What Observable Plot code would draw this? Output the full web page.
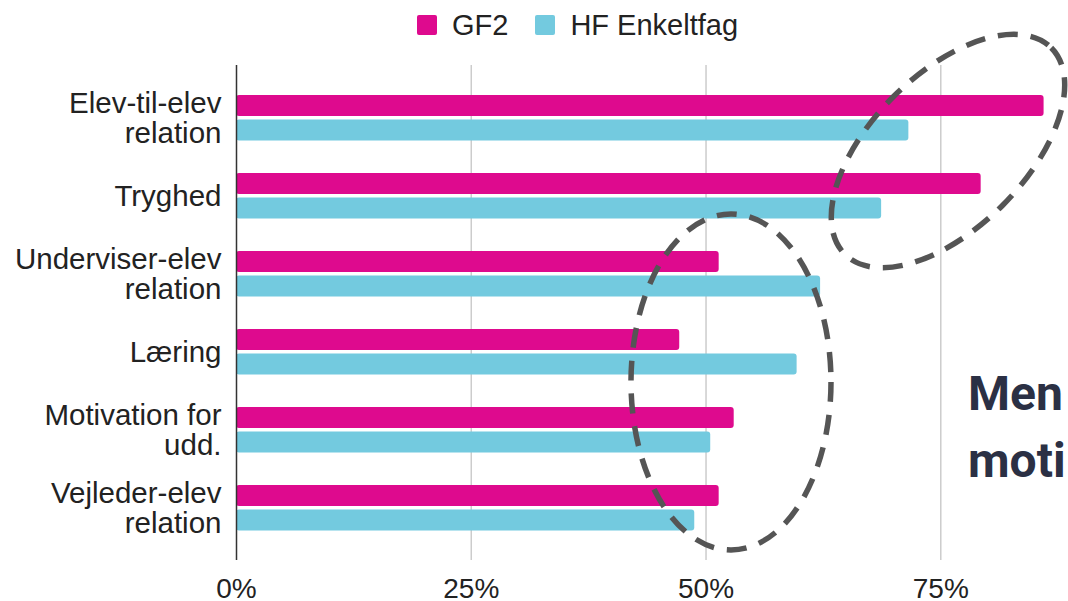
<!DOCTYPE html>
<html>
<head>
<meta charset="utf-8">
<script src="https://cdn.jsdelivr.net/npm/d3@7"></script>
<script src="https://cdn.jsdelivr.net/npm/@observablehq/plot@0.6"></script>
<style>
  body { margin: 0; background: #fff; font-family: "Liberation Sans", Arial, sans-serif; }
  #wrap { position: relative; width: 1068px; height: 601px; overflow: hidden; }
  #legend { position: absolute; left: 417px; top: 0; height: 50px; display: flex; align-items: center; font-size: 29px; color: #222; }
  .item { display: flex; align-items: center; margin-right: 27px; }
  .sw { width: 20px; height: 20px; border-radius: 2px; margin-right: 15px; }
  #chart { position: absolute; left: 0; top: 50px; }
  #overlay { position: absolute; left: 0; top: 0; pointer-events: none; }
</style>
</head>
<body>
<div id="wrap">
  <div id="legend"></div>
  <div id="chart"></div>
  <svg id="overlay" width="1068" height="601">
    <ellipse cx="948" cy="151" rx="146" ry="77" transform="rotate(-45 948 151)" fill="none" stroke="#555" stroke-width="5.5" stroke-dasharray="20 13"/>
    <ellipse cx="731" cy="382" rx="100" ry="168" fill="none" stroke="#555" stroke-width="5.5" stroke-dasharray="20 13"/>
    <text x="968" y="410" font-family="Roboto, Inter, sans-serif" font-weight="700" font-size="48" fill="#2b3044">Men</text>
    <text x="968" y="477" font-family="Roboto, Inter, sans-serif" font-weight="700" font-size="48" fill="#2b3044">moti</text>
  </svg>
</div>
<script>
// ---- data ----
const categories = ["Elev-til-elev relation", "Tryghed", "Underviser-elev relation", "Læring", "Motivation for udd.", "Vejleder-elev relation"];
const categoryLabels = ["Elev-til-elev\nrelation", "Tryghed", "Underviser-elev\nrelation", "Læring", "Motivation for\nudd.", "Vejleder-elev\nrelation"];
const series = ["GF2", "HF Enkeltfag"];
const seriesColors = ["#de0a8e", "#73cadf"];
const gf2Values = [86.0, 79.3, 51.4, 47.2, 53.0, 51.4];
const hfValues = [71.6, 68.7, 62.2, 59.7, 50.5, 48.8];
const xTicks = [0, 25, 50, 75];

// ---- legend ----
const legend = document.getElementById("legend");
series.forEach((s, i) => {
  const it = document.createElement("div");
  it.className = "item";
  const sw = document.createElement("div");
  sw.className = "sw";
  sw.style.background = seriesColors[i];
  const t = document.createElement("span");
  t.textContent = s;
  it.appendChild(sw); it.appendChild(t);
  legend.appendChild(it);
});

const gf2Data = categories.map((c, i) => ({category: c, series: series[0], value: gf2Values[i]}));
const hfData = categories.map((c, i) => ({category: c, series: series[1], value: hfValues[i]}));
const labelOf = new Map(categories.map((c, i) => [c, categoryLabels[i]]));

const chart = Plot.plot({
  width: 1068,
  height: 551,
  marginTop: 15,
  marginBottom: 41,
  marginLeft: 236,
  marginRight: 0,
  style: {fontSize: "28px", fontFamily: "'Liberation Sans', Arial, sans-serif", color: "#222", background: "transparent", overflow: "visible"},
  x: {domain: [0, 88.6], axis: null, label: null},
  y: {domain: categories, paddingInner: 0, paddingOuter: 0.16, axis: null, label: null},
  color: {domain: series, range: seriesColors},
  marks: [
    Plot.ruleX(xTicks.filter(d => d > 0), {stroke: "#ccc", strokeWidth: 1.5, strokeOpacity: 1}),
    Plot.barX(gf2Data, {x: "value", y: "category", fill: "series", insetTop: 16, insetBottom: 41, rx: 3}),
    Plot.barX(hfData, {x: "value", y: "category", fill: "series", insetTop: 40.5, insetBottom: 16.5, rx: 3}),
    Plot.ruleX([0], {stroke: "#333", strokeWidth: 1.5}),
    Plot.axisX({ticks: xTicks, tickSize: 0, tickPadding: 18, tickFormat: d => d + "%", fill: "#222", label: null}),
    Plot.axisY({tickSize: 0, tickPadding: 15, tickFormat: d => labelOf.get(d), lineHeight: 1.02, fontSize: 29.5, fill: "#222", label: null})
  ]
});
document.getElementById("chart").appendChild(chart);
</script>
</body>
</html>
